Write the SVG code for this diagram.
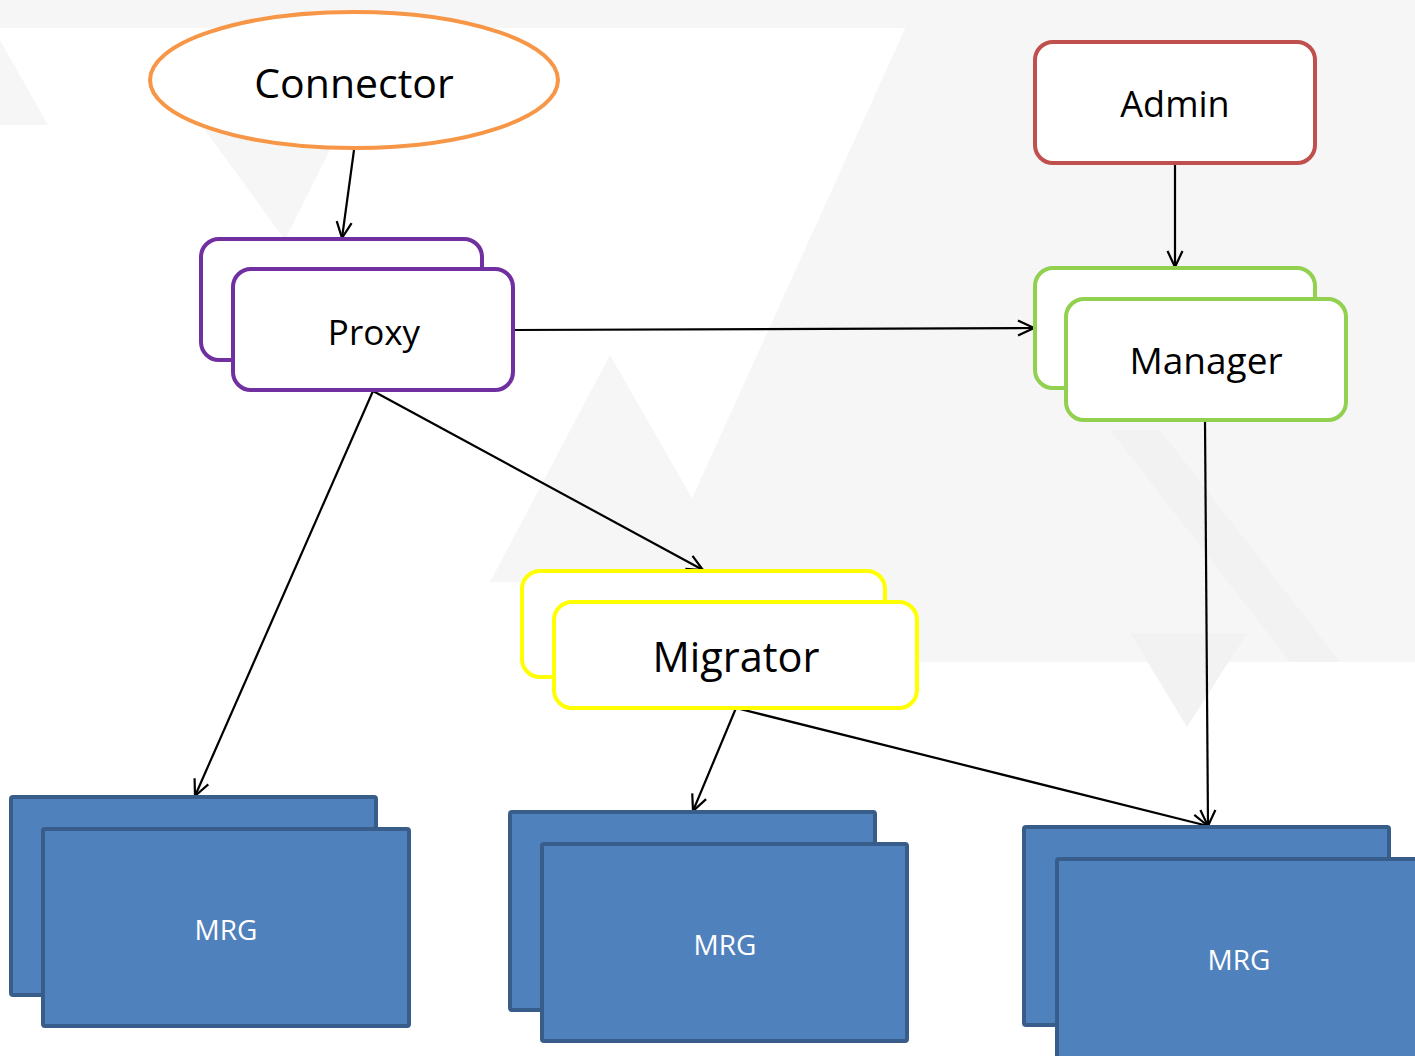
<svg xmlns="http://www.w3.org/2000/svg" width="1415" height="1056" viewBox="0 0 1415 1056">
  <defs>
    <marker id="arrow" viewBox="0 0 18 18" refX="17" refY="9" markerWidth="18" markerHeight="18" markerUnits="userSpaceOnUse" orient="auto">
      <path d="M1,1.5 L17,9 L1,16.5" fill="none" stroke="#000" stroke-width="2.2"/>
    </marker>
  </defs>
  <style>
    .bg { fill: #f6f6f6; }
    .bg2 { fill: #f2f2f2; }
    .lbl { font-family: "Open Sans", "Noto Sans", sans-serif; fill: #000; text-anchor: middle; }
    .mrg-lbl { font-family: "Open Sans", "Noto Sans", sans-serif; fill: #fff; text-anchor: middle; font-size: 28px; }
    .box { fill: #fff; stroke-width: 4; }
    .proxy { stroke: #7030A0; }
    .mgr { stroke: #92D050; }
    .admin { stroke: #C0504D; }
    .migr { stroke: #FFFF00; }
    .mrg { fill: #4F81BD; stroke: #385D8A; stroke-width: 4; }
    .edge { fill: none; stroke: #000; stroke-width: 2.2; marker-end: url(#arrow); }
  </style>

  <!-- faint background pattern -->
  <g id="background">
    <rect x="0" y="0" width="1415" height="1056" fill="#ffffff"/>
    <rect class="bg" x="0" y="0" width="1415" height="28"/>
    <polygon class="bg" points="0,40 0,125 48,125"/>
    <polygon class="bg" points="205,130 340,130 285,240"/>
    <polygon class="bg" points="918,0 1415,0 1415,662 640,662 655,580"/>
    <polygon class="bg" points="610,355 490,582 740,582"/>
    <polygon class="bg2" points="1130,633 1247,633 1187,727"/>
    <polygon class="bg2" points="1110,430 1160,430 1340,662 1290,662"/>
  </g>

  <!-- connectors -->
  <g id="connectors">
    <line class="edge" x1="354" y1="150" x2="342" y2="238"/>
    <line class="edge" x1="1175" y1="163" x2="1175" y2="267"/>
    <line class="edge" x1="513" y1="330" x2="1034" y2="328"/>
    <line class="edge" x1="373" y1="391" x2="195" y2="796"/>
    <line class="edge" x1="373" y1="391" x2="703" y2="570"/>
    <line class="edge" x1="736" y1="708" x2="693" y2="811"/>
    <line class="edge" x1="736" y1="708" x2="1208" y2="826"/>
    <line class="edge" x1="1205" y1="421" x2="1208" y2="826"/>
  </g>

  <g id="node-connector">
    <ellipse cx="354" cy="80" rx="204" ry="68" fill="#fff" stroke="#F79646" stroke-width="4"/>
    <text class="lbl" x="354" y="98" font-size="41">Connector</text>
  </g>

  <g id="node-proxy">
    <rect class="box proxy" x="201" y="239" width="281" height="121" rx="18"/>
    <rect class="box proxy" x="233" y="269" width="280" height="121" rx="18"/>
    <text class="lbl" x="374" y="345" font-size="35">Proxy</text>
  </g>

  <g id="node-admin">
    <rect class="box admin" x="1035" y="42" width="280" height="121" rx="18"/>
    <text class="lbl" x="1175" y="117" font-size="36">Admin</text>
  </g>

  <g id="node-manager">
    <rect class="box mgr" x="1035" y="268" width="280" height="120" rx="18"/>
    <rect class="box mgr" x="1066" y="299" width="280" height="121" rx="18"/>
    <text class="lbl" x="1206" y="374" font-size="37">Manager</text>
  </g>

  <g id="node-migrator">
    <rect class="box migr" x="522" y="571" width="363" height="106" rx="18"/>
    <rect class="box migr" x="554" y="602" width="363" height="106" rx="18"/>
    <text class="lbl" x="736" y="672" font-size="41.5">Migrator</text>
  </g>

  <g id="node-mrg-1">
    <rect class="mrg" x="11" y="797" width="365" height="198" rx="2"/>
    <rect class="mrg" x="43" y="829" width="366" height="197" rx="2"/>
    <text class="mrg-lbl" x="226" y="940">MRG</text>
  </g>

  <g id="node-mrg-2">
    <rect class="mrg" x="510" y="812" width="365" height="198" rx="2"/>
    <rect class="mrg" x="542" y="844" width="365" height="197" rx="2"/>
    <text class="mrg-lbl" x="725" y="955">MRG</text>
  </g>

  <g id="node-mrg-3">
    <rect class="mrg" x="1024" y="827" width="365" height="198" rx="2"/>
    <rect class="mrg" x="1057" y="859" width="365" height="199" rx="2"/>
    <text class="mrg-lbl" x="1239" y="970">MRG</text>
  </g>
</svg>
